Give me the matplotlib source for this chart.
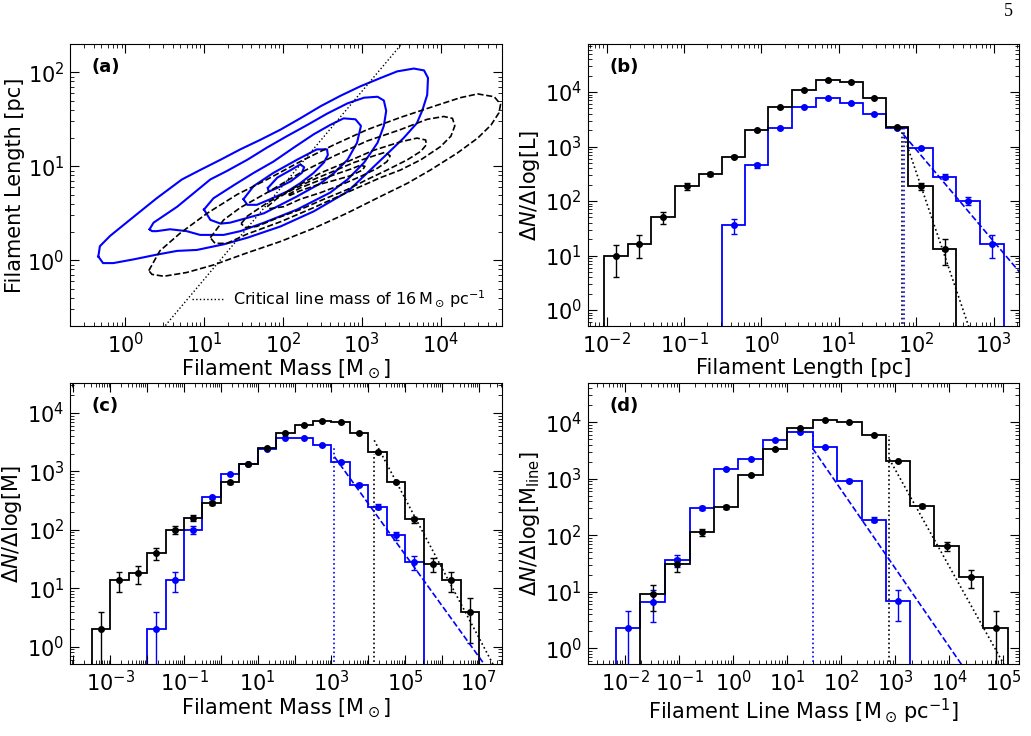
import numpy as np
import matplotlib.pyplot as plt
from matplotlib.ticker import LogLocator, NullFormatter

plt.rcParams['font.family'] = 'DejaVu Sans'
plt.rcParams['font.size'] = 15
plt.rcParams['xtick.direction'] = 'in'
plt.rcParams['ytick.direction'] = 'in'
plt.rcParams['xtick.top'] = True
plt.rcParams['ytick.right'] = True
plt.rcParams['xtick.major.size'] = 6.5
plt.rcParams['ytick.major.size'] = 6.5
plt.rcParams['xtick.minor.size'] = 3
plt.rcParams['ytick.minor.size'] = 3
plt.rcParams['xtick.major.pad'] = 4
plt.rcParams['ytick.major.pad'] = 4

# ---------------- panel (a): contours, log10(M) / log10(L) vertices ----------------
blue_c1_lm = [-0.34, -0.32, -0.19, 0.06, 0.40, 0.72, 0.95, 1.21, 1.46, 1.71, 1.97, 2.22, 2.48, 2.73, 2.98, 3.24, 3.45,
              3.66, 3.79, 3.84, 3.83, 3.77, 3.70, 3.53, 3.32, 3.07, 2.82, 2.39, 1.97, 1.55, 1.25, 0.91, 0.66, 0.40,
              0.11, -0.15, -0.28, -0.34]
blue_c1_ll = [0.04, 0.15, 0.26, 0.43, 0.66, 0.86, 0.96, 1.07, 1.18, 1.28, 1.39, 1.51, 1.64, 1.75, 1.85, 1.94, 2.01,
              2.04, 2.02, 1.94, 1.76, 1.60, 1.46, 1.30, 1.13, 0.93, 0.73, 0.52, 0.36, 0.24, 0.17, 0.11, 0.10, 0.06,
              0.01, -0.03, -0.03, 0.04]
blue_c2_lm = [0.31, 0.36, 0.66, 1.08, 1.29, 1.55, 1.80, 2.05, 2.31, 2.56, 2.82, 3.03, 3.20, 3.28, 3.31, 3.28, 3.20,
              3.03, 2.82, 2.60, 2.18, 1.76, 1.46, 1.25, 0.95, 0.78, 0.57, 0.40, 0.34, 0.31]
blue_c2_ll = [0.33, 0.40, 0.57, 0.86, 0.95, 1.07, 1.20, 1.32, 1.44, 1.56, 1.67, 1.73, 1.74, 1.70, 1.59, 1.43, 1.25,
              1.04, 0.86, 0.72, 0.54, 0.40, 0.31, 0.27, 0.27, 0.31, 0.33, 0.31, 0.31, 0.33]
blue_c3_lm = [1.00, 1.12, 1.38, 1.63, 1.88, 2.14, 2.39, 2.60, 2.77, 2.92, 2.99, 2.94, 2.82, 2.65, 2.48, 2.18, 1.76,
              1.33, 1.21, 1.08, 1.00]
blue_c3_ll = [0.54, 0.66, 0.80, 0.93, 1.05, 1.20, 1.34, 1.44, 1.51, 1.50, 1.43, 1.25, 1.07, 0.93, 0.82, 0.68, 0.50,
              0.40, 0.39, 0.43, 0.54]
blue_c4_lm = [1.50, 1.63, 1.88, 2.18, 2.43, 2.56, 2.57, 2.52, 2.39, 2.22, 2.05, 1.84, 1.67, 1.55, 1.50]
blue_c4_ll = [0.65, 0.79, 0.93, 1.07, 1.18, 1.18, 1.12, 1.04, 0.93, 0.82, 0.73, 0.65, 0.59, 0.59, 0.65]
blue_c5_lm = [1.81, 1.93, 2.10, 2.22, 2.27, 2.24, 2.10, 1.93, 1.82, 1.81]
blue_c5_ll = [0.77, 0.88, 0.96, 1.02, 0.99, 0.93, 0.84, 0.77, 0.73, 0.77]

black_c1_lm = [0.30, 0.44, 0.70, 1.04, 1.42, 1.80, 2.22, 2.65, 3.07, 3.49, 3.92, 4.25, 4.47, 4.68, 4.76, 4.74, 4.64,
               4.47, 4.21, 3.87, 3.58, 3.24, 2.81, 2.39, 1.97, 1.55, 1.12, 0.78, 0.49, 0.34, 0.30]
black_c1_ll = [-0.11, 0.10, 0.29, 0.50, 0.70, 0.86, 1.05, 1.23, 1.39, 1.52, 1.64, 1.73, 1.77, 1.74, 1.66, 1.57, 1.44,
               1.30, 1.14, 0.96, 0.82, 0.68, 0.50, 0.34, 0.20, 0.08, -0.05, -0.13, -0.17, -0.15, -0.11]
black_c2_lm = [1.08, 1.25, 1.46, 1.80, 2.22, 2.65, 3.07, 3.49, 3.83, 4.04, 4.15, 4.18, 4.13, 4.00, 3.75, 3.49, 3.24,
               2.81, 2.39, 1.97, 1.55, 1.29, 1.14, 1.08]
black_c2_ll = [0.24, 0.43, 0.56, 0.72, 0.93, 1.11, 1.27, 1.39, 1.50, 1.53, 1.51, 1.43, 1.32, 1.21, 1.07, 0.96, 0.88,
               0.72, 0.56, 0.41, 0.28, 0.18, 0.18, 0.24]
black_c3_lm = [1.47, 1.55, 1.80, 2.14, 2.48, 2.82, 3.15, 3.49, 3.70, 3.81, 3.82, 3.75, 3.58, 3.32, 3.07, 2.81, 2.52,
               2.22, 1.93, 1.67, 1.52, 1.47]
black_c3_ll = [0.39, 0.47, 0.61, 0.77, 0.93, 1.05, 1.17, 1.26, 1.30, 1.28, 1.23, 1.16, 1.07, 0.96, 0.86, 0.75, 0.65,
               0.54, 0.45, 0.36, 0.35, 0.39]
black_c4_lm = [1.80, 1.93, 2.14, 2.39, 2.65, 2.90, 3.15, 3.30, 3.36, 3.32, 3.20, 2.98, 2.73, 2.48, 2.22, 2.01, 1.84, 1.80]
black_c4_ll = [0.57, 0.66, 0.76, 0.86, 0.95, 1.04, 1.11, 1.15, 1.11, 1.05, 0.98, 0.89, 0.80, 0.72, 0.65, 0.57, 0.55, 0.57]
black_c5_lm = [2.07, 2.22, 2.43, 2.65, 2.86, 2.98, 3.04, 3.01, 2.86, 2.65, 2.43, 2.22, 2.09, 2.07]
black_c5_ll = [0.70, 0.77, 0.84, 0.91, 0.97, 1.01, 1.00, 0.96, 0.90, 0.85, 0.80, 0.74, 0.69, 0.70]

crit_line_mass = 16.0
crit_mass_range = [1.0, 1e5]

# ---------------- panel (b): length distribution ----------------
b_edges = [-2.03, -1.73, -1.43, -1.12, -0.81, -0.51, -0.21, 0.09, 0.39, 0.71, 1.01, 1.31, 1.61, 1.90, 2.22, 2.52,
           2.83, 3.13]
b_black = [9.8, 16.5, 50, 185, 315, 650, 2000, 5200, 11000, 16300, 15500, 7800, 2250, 185, 13.2]
b_black_err = [5.7, 7.4, 12.9, 24.8, 32.3, 46.5, 81.5, 131, 191, 233, 227, 161, 86, 24.8, 6.6]
b_black_first = 0
b_blue = [36, 450, 2150, 5400, 7650, 6200, 4000, 2150, 940, 280, 102, 16.6]
b_blue_err = [10.9, 38.7, 84.5, 134, 159, 143, 115, 84.5, 55.9, 30.5, 18.4, 7.4]
b_blue_first = 5
b_black_cut = [1.815, 3.34]
b_blue_cut = [1.84, 3.35]
b_black_fit = [[1.828, 2.72], [3.25, -0.47]]
b_blue_fit = [[1.836, 3.40], [3.22, 0.59]]

# ---------------- panel (c): mass distribution ----------------
c_edges = [-3.5, -3.0, -2.5, -2.0, -1.5, -1.0, -0.5, 0.0, 0.5, 1.0, 1.5, 2.0, 2.5, 3.0, 3.5, 4.0, 4.5, 5.0, 5.5,
           6.0, 6.5, 7.0]
c_black = [2.0, 13.8, 17.9, 39.5, 100, 160, 290, 645, 1310, 2550, 4550, 6150, 7300, 6840, 4550, 2150, 660, 150,
           25.9, 13.8, 4.0]
c_black_err = [1.99, 5.25, 5.98, 8.89, 14.1, 17.9, 24.1, 35.9, 51.2, 71.4, 95.4, 110.9, 120.8, 117, 95.4, 65.6,
               36.3, 17.3, 7.2, 5.25, 2.83]
c_black_first = 0
c_blue = [2.0, 13.8, 100, 357, 895, 1320, 2450, 3740, 3780, 2800, 1450, 590, 250, 80, 28]
c_blue_err = [1.99, 5.25, 14.1, 26.7, 42.3, 51.4, 70, 86.5, 86.9, 74.8, 53.9, 34.4, 22.4, 12.6, 7.5]
c_blue_first = 3
c_black_cut = [4.16, 3.29]
c_blue_cut = [3.08, 3.43]
c_black_fit = [[4.16, 7.7], [3.53, -0.68]]
c_blue_fit = [[3.08, 7.5], [3.25, -0.61]]

# ---------------- panel (d): line-mass distribution ----------------
d_edges = [-2.17, -1.72, -1.26, -0.80, -0.35, 0.10, 0.56, 1.00, 1.47, 1.92, 2.38, 2.83, 3.27, 3.72, 4.18, 4.63, 5.09]
d_black = [9.0, 31, 113, 321, 1150, 3330, 7830, 11000, 10100, 5970, 2040, 330, 65.6, 18.1, 2.26]
d_black_err = [4.45, 8.26, 15.8, 26.6, 50.3, 85.6, 131, 156, 149, 115, 67, 26.9, 12, 6.3, 2.23]
d_black_first = 1
d_blue = [2.26, 6.7, 36, 309, 1470, 2270, 4870, 6740, 3610, 929, 189, 6.9]
d_blue_err = [2.23, 3.84, 8.9, 26.1, 56.9, 70.7, 103.5, 121.8, 89.1, 45.2, 20.4, 3.9]
d_blue_first = 0
d_black_cut = [2.89, 3.76]
d_blue_cut = [1.47, 3.83]
d_black_fit = [[2.89, 5.1], [3.35, -0.44]]
d_blue_fit = [[1.47, 4.3], [3.54, -0.39]]


def dec_labels(exps, show=None):
    labs = []
    for e in exps:
        if show is None or e in show:
            labs.append(r'$10^{%d}$' % e)
        else:
            labs.append('')
    return labs


def setup_log(ax, xexp, yexp, xshow=None):
    ax.set_xscale('log')
    ax.set_yscale('log')
    ax.set_xticks([10.0 ** e for e in xexp], dec_labels(xexp, xshow))
    ax.set_yticks([10.0 ** e for e in yexp], dec_labels(yexp))
    for a in (ax.xaxis, ax.yaxis):
        a.set_minor_locator(LogLocator(base=10, subs=np.arange(2, 10), numticks=100))
        a.set_minor_formatter(NullFormatter())


def draw_hist(ax, edges, vals, errs, first, color):
    e = np.array(edges[first:first + len(vals) + 1])
    ax.stairs(vals, 10 ** e, baseline=1e-3, color=color, lw=1.3)
    cen = 10 ** ((e[:-1] + e[1:]) / 2)
    ax.errorbar(cen, vals, yerr=errs, fmt='o', ms=4, color=color, ecolor=color, elinewidth=1,
                capsize=2.5, capthick=1)


def draw_fits(ax, cut, fit, color, ls):
    ax.plot([10 ** cut[0], 10 ** cut[0]], [1e-3, 10 ** cut[1]], ':', color=color, lw=1.2)
    ax.plot(10 ** np.array(fit[0]), 10 ** np.array(fit[1]), ls=ls, color=color, lw=1.2)


fig = plt.figure(figsize=(10.31, 7.36), dpi=100)
axa = fig.add_axes([0.0679, 0.5571, 0.4190, 0.3831])
axb = fig.add_axes([0.5700, 0.5571, 0.4184, 0.3831])
axc = fig.add_axes([0.0679, 0.0974, 0.4190, 0.3818])
axd = fig.add_axes([0.5700, 0.0974, 0.4184, 0.3818])

# (a)
for lm, ll in [(blue_c1_lm, blue_c1_ll), (blue_c2_lm, blue_c2_ll), (blue_c3_lm, blue_c3_ll),
               (blue_c4_lm, blue_c4_ll), (blue_c5_lm, blue_c5_ll)]:
    axa.plot(10 ** np.array(lm), 10 ** np.array(ll), color='blue', lw=1.5, solid_joinstyle='round')
for lm, ll in [(black_c1_lm, black_c1_ll), (black_c2_lm, black_c2_ll), (black_c3_lm, black_c3_ll),
               (black_c4_lm, black_c4_ll), (black_c5_lm, black_c5_ll)]:
    axa.plot(10 ** np.array(lm), 10 ** np.array(ll), '--', color='black', lw=1.2)
mline = np.array(crit_mass_range)
axa.plot(mline, mline / crit_line_mass, ':', color='black', lw=1.0,
         label=r'Critical line mass of $16\,\mathrm{M_\odot\,pc^{-1}}$')
setup_log(axa, [0, 1, 2, 3, 4], [0, 1, 2])
axa.set_xlim(0.2, 6e4)
axa.set_ylim(0.2, 200)
axa.set_xlabel(r'Filament Mass [M$_\odot$]', labelpad=1)
axa.set_ylabel('Filament Length [pc]', labelpad=2)
axa.legend(loc='lower right', frameon=False, fontsize=11.5, handlelength=2.0, handletextpad=0.6,
           borderaxespad=0.6)
axa.text(0.05, 0.95, '(a)', transform=axa.transAxes, fontsize=13, fontweight='bold', va='top')

# (b)
draw_hist(axb, b_edges, b_blue, b_blue_err, b_blue_first, 'blue')
draw_hist(axb, b_edges, b_black, b_black_err, b_black_first, 'black')
draw_fits(axb, b_black_cut, b_black_fit, 'black', ':')
draw_fits(axb, b_blue_cut, b_blue_fit, 'blue', '--')
setup_log(axb, [-2, -1, 0, 1, 2, 3], [0, 1, 2, 3, 4])
axb.set_xlim(10 ** -2.246, 10 ** 3.33)
axb.set_ylim(0.51, 7.6e4)
axb.set_xlabel('Filament Length [pc]', labelpad=1)
axb.set_ylabel(r'$\Delta N/\Delta\mathrm{log[L]}$', labelpad=2)
axb.text(0.05, 0.95, '(b)', transform=axb.transAxes, fontsize=13, fontweight='bold', va='top')

# (c)
draw_hist(axc, c_edges, c_blue, c_blue_err, c_blue_first, 'blue')
draw_hist(axc, c_edges, c_black, c_black_err, c_black_first, 'black')
draw_fits(axc, c_black_cut, c_black_fit, 'black', ':')
draw_fits(axc, c_blue_cut, c_blue_fit, 'blue', '--')
setup_log(axc, list(range(-4, 8)), [0, 1, 2, 3, 4], xshow=[-3, -1, 1, 3, 5, 7])
axc.set_xlim(10 ** -4.09, 10 ** 7.625)
axc.set_ylim(0.5, 3.2e4)
axc.set_xlabel(r'Filament Mass [M$_\odot$]', labelpad=1)
axc.set_ylabel(r'$\Delta N/\Delta\mathrm{log[M]}$', labelpad=2)
axc.text(0.05, 0.95, '(c)', transform=axc.transAxes, fontsize=13, fontweight='bold', va='top')

# (d)
draw_hist(axd, d_edges, d_blue, d_blue_err, d_blue_first, 'blue')
draw_hist(axd, d_edges, d_black, d_black_err, d_black_first, 'black')
draw_fits(axd, d_black_cut, d_black_fit, 'black', ':')
draw_fits(axd, d_blue_cut, d_blue_fit, 'blue', '--')
setup_log(axd, list(range(-2, 6)), [0, 1, 2, 3, 4])
axd.set_xlim(10 ** -2.69, 10 ** 5.29)
axd.set_ylim(0.52, 4.9e4)
axd.set_xlabel(r'Filament Line Mass [M$_\odot\,$pc$^{-1}$]', labelpad=1)
axd.set_ylabel(r'$\Delta N/\Delta\mathrm{log[M_{line}]}$', labelpad=2)
axd.text(0.05, 0.95, '(d)', transform=axd.transAxes, fontsize=13, fontweight='bold', va='top')

fig.text(0.978, 0.984, '5', fontsize=13, family='Liberation Serif', ha='center', va='center')

fig.savefig('out.png', dpi=100)
